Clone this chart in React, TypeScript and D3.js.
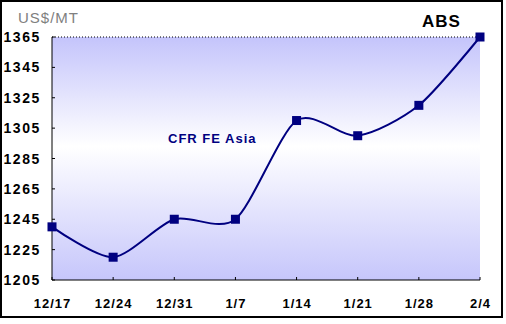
import React from "react";
import * as d3 from "d3";

const categories = ["12/17", "12/24", "12/31", "1/7", "1/14", "1/21", "1/28", "2/4"];
const prices = [1240, 1220, 1245, 1245, 1310, 1300, 1320, 1365];
const yTicks = [1205, 1225, 1245, 1265, 1285, 1305, 1325, 1345, 1365];

export default function App() {
  const W = 506, H = 324;
  const left = 52, right = 480, top = 37, bottom = 280;
  const x = d3.scalePoint<string>().domain(categories).range([left, right]);
  const y = d3.scaleLinear().domain([1205, 1365]).range([bottom, top]);
  const line = d3
    .line<number>()
    .x((_, i) => x(categories[i]) as number)
    .y((d) => y(d))
    .curve(d3.curveCardinal.tension(0.2));
  const font = "Arial, 'Liberation Sans', sans-serif";
  return (
    <svg width={W} height={H} style={{ position: "absolute", left: 0, top: 0 }} fontFamily={font}>
      <defs>
        <linearGradient id="bg" x1="0" y1="0" x2="0" y2="1">
          <stop offset="0" stopColor="#c4c4fb" />
          <stop offset="0.45" stopColor="#ffffff" />
          <stop offset="1" stopColor="#c6c6fb" />
        </linearGradient>
      </defs>
      <rect x={0} y={0} width={W} height={H} fill="#fff" />
      <rect x={1} y={1} width={501} height={316} fill="#fff" stroke="#000" strokeWidth={2} />
      <rect x={left} y={top} width={right - left} height={bottom - top} fill="url(#bg)" />
      <line x1={left} x2={right} y1={top} y2={top} stroke="#000" strokeWidth={1} strokeDasharray="1,2" />
      <line x1={left} x2={left} y1={top} y2={bottom} stroke="#000" strokeWidth={1} />
      <line x1={left} x2={right} y1={bottom} y2={bottom} stroke="#000" strokeWidth={1} />
      {yTicks.map((t) => (
        <g key={t}>
          <line x1={left} x2={left + 3} y1={y(t)} y2={y(t)} stroke="#000" />
          <text x={41} y={y(t) + 5} textAnchor="end" fontSize={14} fontWeight="bold" fill="#000" letterSpacing={1.6}>
            {t}
          </text>
        </g>
      ))}
      {categories.map((c) => (
        <g key={c}>
          <line x1={x(c)} x2={x(c)} y1={bottom} y2={bottom - 3} stroke="#000" />
          <text x={(x(c) as number) + 0.5} y={308} textAnchor="middle" fontSize={13} fontWeight="bold" fill="#000" letterSpacing={1}>
            {c}
          </text>
        </g>
      ))}
      <path d={line(prices) || ""} fill="none" stroke="#000080" strokeWidth={2} />
      {prices.map((p, i) => (
        <rect
          key={i}
          x={(x(categories[i]) as number) - 4.5}
          y={y(p) - 4.5}
          width={9}
          height={9}
          fill="#000080"
        />
      ))}
      <text x={18} y={23} fontSize={15} fill="#808080" letterSpacing={1}>US$/MT</text>
      <text x={422} y={27} fontSize={17} fontWeight="bold" fill="#000" letterSpacing={1}>ABS</text>
      <text x={168} y={143} fontSize={13} fontWeight="bold" fill="#000080" letterSpacing={1}>CFR FE Asia</text>
    </svg>
  );
}
